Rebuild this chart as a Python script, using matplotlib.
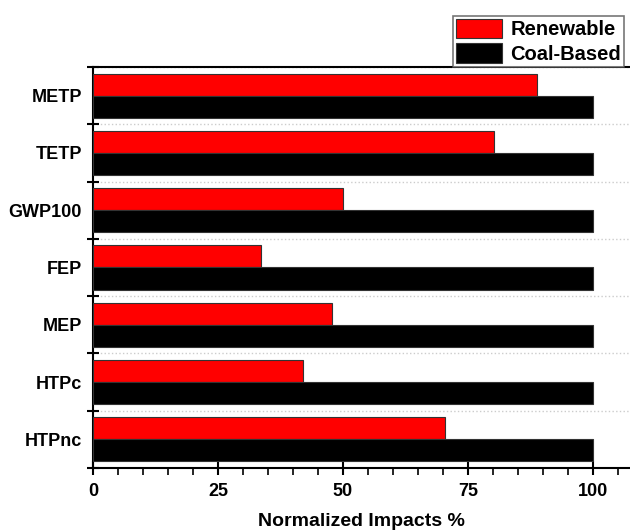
import matplotlib.pyplot as plt
import numpy as np
from matplotlib.ticker import MultipleLocator, FixedLocator

plt.rcParams['font.family'] = ['Liberation Sans', 'DejaVu Sans']
plt.rcParams['font.weight'] = 'bold'

categories = ['HTPnc', 'HTPc', 'MEP', 'FEP', 'GWP100', 'TETP', 'METP']
renewable = [70.4, 42.0, 47.8, 33.6, 50.0, 80.2, 88.8]
coal_based = [100, 100, 100, 100, 100, 100, 100]

y = np.arange(len(categories))
h = 0.385

fig = plt.figure(figsize=(6.3, 5.3), dpi=100)
ax = fig.add_axes([0.1476, 0.1170, 0.8524, 0.7566])

ax.barh(y + h / 2, renewable, height=h, color='#ff0000', edgecolor='#333333', linewidth=0.8,
        label='Renewable', zorder=3)
ax.barh(y - h / 2, coal_based, height=h, color='black', edgecolor='#333333', linewidth=0.8,
        label='Coal-Based', zorder=3)

ax.set_xlim(0, 107.4)
ax.set_ylim(-0.5, len(categories) - 0.5)

# x axis: majors every 25, minors every 5
ax.xaxis.set_major_locator(MultipleLocator(25))
ax.xaxis.set_minor_locator(MultipleLocator(5))
ax.tick_params(axis='x', which='major', direction='inout', length=10, width=1.5, labelsize=13, pad=6)
ax.tick_params(axis='x', which='minor', direction='out', length=5, width=1.2)

# y axis: labels at centres, ticks at the group boundaries
ax.set_yticks(y)
ax.set_yticklabels(categories)
ax.yaxis.set_minor_locator(FixedLocator(np.arange(-0.5, len(categories), 1.0)))
ax.tick_params(axis='y', which='major', length=0, labelsize=13, pad=8)
ax.tick_params(axis='y', which='minor', direction='inout', length=8, width=1.5)
ax.grid(axis='y', which='minor', linestyle=':', color='#cccccc', linewidth=1, zorder=0)

for lbl in ax.get_xticklabels() + ax.get_yticklabels():
    lbl.set_fontweight('bold')

for s in ['left', 'top', 'bottom']:
    ax.spines[s].set_linewidth(1.5)
ax.spines['right'].set_visible(False)

ax.set_xlabel('Normalized Impacts %', fontsize=14, fontweight='bold', labelpad=9)

leg = fig.legend(loc='lower left', bbox_to_anchor=(453 / 630, 1 - 67 / 530),
                 fontsize=14.5, frameon=True, fancybox=False, edgecolor='#555555',
                 handlelength=2.3, handleheight=1.1, handletextpad=0.4,
                 labelspacing=0.2, borderpad=0.15, borderaxespad=0)
leg.get_frame().set_linewidth(1.2)
for t in leg.get_texts():
    t.set_fontweight('bold')

fig.savefig('out.png', dpi=100)
